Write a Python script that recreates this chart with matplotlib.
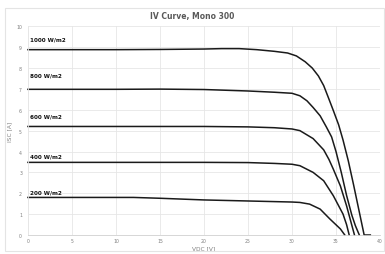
import matplotlib
matplotlib.use("Agg")
import matplotlib.pyplot as plt
from matplotlib.patches import Rectangle

# IV curve readings per irradiance level (voltage [V], current [A])
v_1000 = [0, 5, 10, 15, 20, 22, 24, 26, 28, 29.5, 30.5, 31.5, 32.3, 33.0, 33.6, 34.1, 34.7, 35.3, 35.8, 36.4, 37.0, 37.6, 38.2, 38.9]
i_1000 = [8.88, 8.88, 8.88, 8.89, 8.91, 8.93, 8.93, 8.88, 8.80, 8.72, 8.58, 8.30, 8.00, 7.62, 7.16, 6.62, 5.96, 5.28, 4.55, 3.55, 2.4, 1.2, 0, 0]

v_800 = [0, 10, 15, 20, 25, 28, 30, 30.9, 31.7, 32.4, 33.2, 33.9, 34.5, 35.0, 35.6, 36.2, 36.8, 37.2, 37.65]
i_800 = [6.98, 6.98, 6.99, 6.97, 6.90, 6.84, 6.79, 6.67, 6.43, 6.11, 5.71, 5.18, 4.7, 4.0, 3.0, 1.9, 0.95, 0.45, 0]

v_600 = [0, 10, 20, 25, 28, 30, 30.9, 32.4, 33.6, 34.2, 34.7, 35.5, 36.2, 36.7, 37.1]
i_600 = [5.2, 5.2, 5.2, 5.18, 5.14, 5.08, 5.0, 4.62, 4.08, 3.62, 3.15, 2.35, 1.4, 0.62, 0]

v_400 = [0, 10, 20, 25, 28, 30, 30.9, 32.4, 33.6, 34.7, 35.8, 36.2, 36.5]
i_400 = [3.48, 3.48, 3.48, 3.47, 3.43, 3.39, 3.32, 3.0, 2.6, 1.88, 1.0, 0.5, 0]

v_200 = [0, 5, 10, 12, 15, 20, 25, 30, 30.9, 32.0, 33.2, 34.3, 35.5, 36.0]
i_200 = [1.8, 1.8, 1.8, 1.8, 1.76, 1.68, 1.63, 1.58, 1.56, 1.48, 1.24, 0.77, 0.29, 0]

labels = ["1000 W/m2", "800 W/m2", "600 W/m2", "400 W/m2", "200 W/m2"]
label_y = [9.38, 7.66, 5.7, 3.8, 2.04]

x_ticks = [0, 5, 10, 15, 20, 25, 30, 35, 40]
y_ticks = [0, 1, 2, 3, 4, 5, 6, 7, 8, 9, 10]

fig = plt.figure(figsize=(3.85, 2.55), dpi=100)
ax = fig.add_axes([0.0727, 0.0745, 0.9143, 0.8185])

# light chart-area border like the spreadsheet export
fig.patches.append(Rectangle((0.012, 0.01), 0.985, 0.955, transform=fig.transFigure,
                             fill=False, edgecolor="#e4e4e4", linewidth=0.8))

curves = [(v_1000, i_1000), (v_800, i_800), (v_600, i_600), (v_400, i_400), (v_200, i_200)]
for (v, i) in curves:
    ax.plot(v, i, color="#1a1a1a", linewidth=1.1, solid_joinstyle="round", clip_on=False)

for text, y in zip(labels, label_y):
    ax.text(0.25, y, text, fontsize=4.1, fontweight="bold", color="#111111",
            va="center", ha="left")

ax.set_xlim(0, 40)
ax.set_ylim(0, 10)
ax.set_xticks(x_ticks)
ax.set_yticks(y_ticks)
ax.tick_params(labelsize=3.3, colors="#7f7f7f", length=0)
ax.tick_params(axis="x", pad=2.5)
ax.tick_params(axis="y", pad=4.3)
ax.grid(True, color="#e6e6e6", linewidth=0.6)
ax.set_axisbelow(True)
for side in ["top", "right"]:
    ax.spines[side].set_visible(False)
ax.spines["left"].set_color("#e6e6e6")
ax.spines["bottom"].set_color("#d0d0d0")
ax.spines["left"].set_linewidth(0.6)
ax.spines["bottom"].set_linewidth(0.6)

ax.set_xlabel("VDC [V]", fontsize=4.2, color="#7f7f7f", labelpad=1.5)
ax.set_ylabel("ISC [A]", fontsize=4.2, color="#7f7f7f", labelpad=2.5)
fig.text(0.5, 0.935, "IV Curve, Mono 300", ha="center", va="center",
         fontsize=5.5, fontweight="bold", color="#595959")

fig.savefig("out.png", dpi=100)
